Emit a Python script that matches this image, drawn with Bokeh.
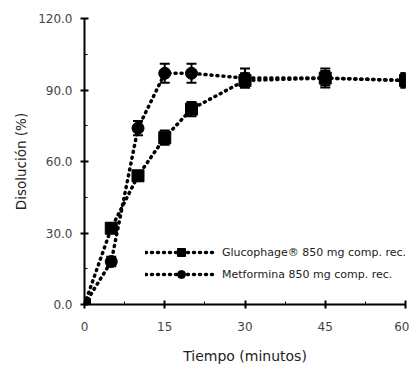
from bokeh.plotting import figure
from bokeh.models import Range1d, Whisker, TeeHead, ColumnDataSource, Legend, LegendItem, FixedTicker, CustomJSTickFormatter
from bokeh.embed import file_html
from bokeh.resources import INLINE

tiempo = [0, 5, 10, 15, 20, 30, 45, 60]
glucophage = [0, 32, 54, 70, 82, 94, 95, 94]
glucophage_err = [1, 2, 2, 3, 3, 3, 3, 3]
metformina = [0, 18, 74, 97, 97, 95, 95, 94]
metformina_err = [1, 2, 3, 4, 4, 4, 4, 3]
x_ticks = [0, 15, 30, 45, 60]
x_minor = [7.5, 22.5, 37.5, 52.5]
y_ticks = [0, 30, 60, 90, 120]
y_minor = [15, 45, 75, 105]
label_g = "Glucophage\u00ae 850 mg comp. rec."
label_m = "Metformina 850 mg comp. rec."

FONT = "DejaVu Sans"

p = figure(width=409, height=366, output_backend="svg", toolbar_location=None,
           x_range=Range1d(0, 60), y_range=Range1d(0, 120))
p.min_border_left = 84
p.min_border_right = 4
p.min_border_top = 18
p.min_border_bottom = 61
p.outline_line_color = None
p.grid.visible = False
p.background_fill_color = "white"

def src(y, e):
    return ColumnDataSource(dict(x=tiempo, y=y, lo=[a - b for a, b in zip(y, e)], hi=[a + b for a, b in zip(y, e)]))

sg = src(glucophage, glucophage_err)
sm = src(metformina, metformina_err)

items = []
for s, marker, lab in [(sm, "circle", label_m), (sg, "square", label_g)]:
    ln = p.line("x", "y", source=s, line_color="black", line_width=3.5, line_dash="1 5", line_cap="round")
    w = Whisker(base="x", lower="lo", upper="hi", source=s, line_color="black", line_width=2,
                upper_head=TeeHead(size=10, line_width=2, line_color="black"),
                lower_head=TeeHead(size=10, line_width=2, line_color="black"))
    p.add_layout(w)
    mk = p.scatter("x", "y", source=s, marker=marker, size=12, fill_color="black", line_color="black")
    items.append(LegendItem(label=lab, renderers=[ln, mk]))
items = items[::-1]

leg = Legend(items=items, location=(61, 20), border_line_color=None, background_fill_alpha=0,
             glyph_width=72, glyph_height=20, spacing=2, padding=0, margin=0, label_standoff=5,
             label_text_font=FONT, label_text_font_size="11px", label_text_color="#222")
p.add_layout(leg, "center")

for ax in (p.xaxis[0], p.yaxis[0]):
    ax.axis_line_width = 2
    ax.major_tick_line_width = 2
    ax.minor_tick_line_width = 1
    ax.major_tick_in = 4
    ax.major_tick_out = 4
    ax.minor_tick_in = 3
    ax.minor_tick_out = 0
    ax.major_label_text_font = FONT
    ax.major_label_text_font_size = "12px"
    ax.major_label_text_color = "#444"
    ax.axis_label_text_font = FONT
    ax.axis_label_text_font_style = "normal"
    ax.axis_label_text_color = "#222"

p.xaxis.ticker = FixedTicker(ticks=x_ticks, minor_ticks=x_minor)
p.yaxis.ticker = FixedTicker(ticks=y_ticks, minor_ticks=y_minor)
p.yaxis.formatter = CustomJSTickFormatter(code="return tick.toFixed(1);")
p.xaxis.axis_label = "Tiempo (minutos)"
p.yaxis.axis_label = "Disolución (%)"
p.xaxis.axis_label_text_font_size = "14px"
p.yaxis.axis_label_text_font_size = "13.5px"
p.xaxis.major_label_standoff = 13
p.yaxis.major_label_standoff = 8
p.xaxis.axis_label_standoff = 14
p.yaxis.axis_label_standoff = 6

open("out.html", "w").write(file_html(p, INLINE))
